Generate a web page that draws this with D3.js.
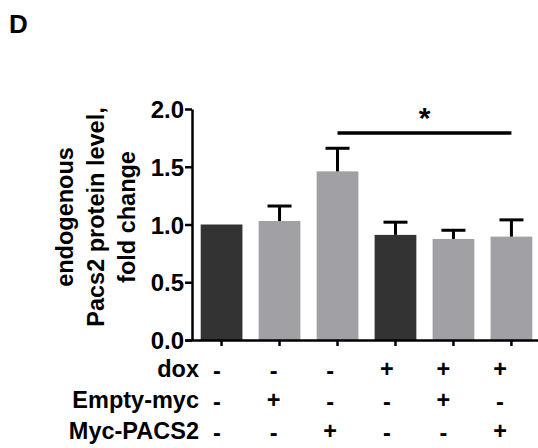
<!DOCTYPE html>
<html>
<head>
<meta charset="utf-8">
<script src="https://cdn.jsdelivr.net/npm/d3@7"></script>
<style>
  html, body { margin: 0; padding: 0; background: #fff; }
  svg { display: block; font-family: "Liberation Sans", Arial, sans-serif; font-weight: bold; }
</style>
</head>
<body>
<div id="chart"></div>
<script>
  const groups = ["g1", "g2", "g3", "g4", "g5", "g6"];
  const means = [1.0, 1.03, 1.46, 0.91, 0.875, 0.895];
  const errorTops = [1.0, 1.16, 1.66, 1.02, 0.95, 1.04];
  const barKinds = ["dark", "light", "light", "dark", "light", "light"];
  const yTicks = [0, 0.5, 1.0, 1.5, 2.0];
  const conditionNames = ["dox", "Empty-myc", "Myc-PACS2"];
  const doxSigns = ["-", "-", "-", "+", "+", "+"];
  const emptySigns = ["-", "+", "-", "-", "+", "-"];
  const pacsSigns = ["-", "-", "+", "-", "-", "+"];
  const comparison = ["g3", "g6"];
  const yTitle = ["endogenous", "Pacs2 protein level,", "fold change"];

  const width = 538;
  const height = 448;
  const colors = { dark: "#333333", light: "#a1a0a4" };

  const svg = d3.select("#chart").append("svg")
    .attr("width", width)
    .attr("height", height);

  const x = d3.scaleBand()
    .domain(groups)
    .range([192, 541])
    .paddingInner(0.28)
    .paddingOuter(0.15);

  const y = d3.scaleLinear()
    .domain([0, 2])
    .range([340, 109]);

  // bars
  svg.append("g").selectAll("rect")
    .data(groups)
    .join("rect")
    .attr("x", (g) => x(g))
    .attr("y", (g, i) => y(means[i]))
    .attr("width", x.bandwidth())
    .attr("height", (g, i) => y(0) - y(means[i]))
    .attr("fill", (g, i) => colors[barKinds[i]]);

  // error bars (upper only)
  const errs = svg.append("g")
    .attr("stroke", "#000")
    .attr("stroke-width", 3);

  groups.forEach((g, i) => {
    if (errorTops[i] <= means[i]) return;
    const cx = x(g) + x.bandwidth() / 2;
    errs.append("line")
      .attr("x1", cx).attr("x2", cx)
      .attr("y1", y(means[i])).attr("y2", y(errorTops[i]));
    errs.append("line")
      .attr("x1", cx - 12).attr("x2", cx + 12)
      .attr("y1", y(errorTops[i])).attr("y2", y(errorTops[i]));
  });

  // y axis
  const yAxis = svg.append("g")
    .attr("transform", "translate(192,0)")
    .call(d3.axisLeft(y).tickValues(yTicks).tickFormat(d3.format(".1f")).tickSize(7).tickSizeOuter(0));
  yAxis.select(".domain").attr("stroke-width", 2.5);
  yAxis.selectAll(".tick line").attr("stroke-width", 2.5);
  yAxis.selectAll(".tick text")
    .attr("font-size", 24)
    .attr("font-weight", "bold")
    .attr("font-family", "Liberation Sans, Arial, sans-serif")
    .attr("fill", "#000")
    .attr("x", -8)
    .attr("dy", "0.36em");

  // x axis
  const xAxis = svg.append("g")
    .attr("transform", `translate(0,${y(0)})`)
    .call(d3.axisBottom(x).tickSize(6).tickSizeOuter(0).tickFormat(""));
  xAxis.select(".domain").attr("d", `M185.5,0.5H538`).attr("stroke-width", 2.5);
  xAxis.selectAll(".tick line").attr("stroke-width", 2.5);

  // y title
  const title = svg.append("text")
    .attr("transform", "translate(96,217) rotate(-90)")
    .attr("text-anchor", "middle")
    .attr("font-size", 23.5);
  yTitle.forEach((line, i) => {
    title.append("tspan")
      .attr("x", 0)
      .attr("y", (i - 1) * 31 + 8)
      .text(line);
  });

  // condition table
  const signX = d3.scalePoint()
    .domain(groups)
    .range([217, 500]);
  const rowY = d3.scalePoint()
    .domain(conditionNames)
    .range([369, 431]);
  const rows = [doxSigns, emptySigns, pacsSigns];

  conditionNames.forEach((name, r) => {
    svg.append("text")
      .attr("x", 199)
      .attr("y", rowY(name))
      .attr("dy", "0.36em")
      .attr("text-anchor", "end")
      .attr("font-size", 23.5)
      .text(name);
    svg.append("g").selectAll("text")
      .data(rows[r])
      .join("text")
      .attr("x", (s, i) => signX(groups[i]))
      .attr("y", rowY(name))
      .attr("dy", (s) => s === "+" ? "0.36em" : "0.42em")
      .attr("text-anchor", "middle")
      .attr("font-size", 23.5)
      .text((s) => s);
  });

  // significance
  const sx1 = x(comparison[0]) + x.bandwidth() / 2;
  const sx2 = x(comparison[1]) + x.bandwidth() / 2;
  svg.append("line")
    .attr("x1", sx1).attr("x2", sx2)
    .attr("y1", 133).attr("y2", 133)
    .attr("stroke", "#000")
    .attr("stroke-width", 3.5);
  svg.append("text")
    .attr("x", (sx1 + sx2) / 2)
    .attr("y", 128)
    .attr("text-anchor", "middle")
    .attr("font-size", 30)
    .text("*");

  // panel letter
  svg.append("text")
    .attr("x", 9)
    .attr("y", 33)
    .attr("font-size", 26)
    .text("D");
</script>
</body>
</html>
